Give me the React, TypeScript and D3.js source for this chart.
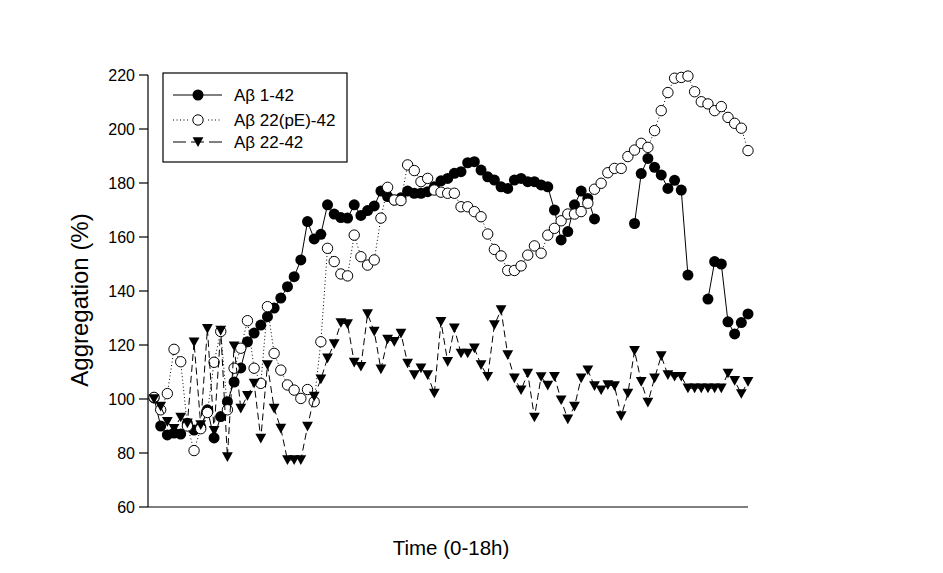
import React from 'react';
import * as d3 from 'd3';

// Aβ 1-42 (filled circles, solid line); null = no measurement
const ab142: (number | null)[] = [
  100.4, 90, 86.7, 87.4, 87, 91, 88.5, 89.6, 96, 85.6,
  93.5, 99, 106.3, 111.5, 121.2, 124.4, 127.4, 130.5, 133.7, 137.4,
  141.6, 145.3, 151.5, 165.7, 159.3, 161, 171.9, 168.5, 167.2, 167,
  171.9, 168, 169.8, 171.5, 177, 175, 173.7, 174.5, 177, 176.2,
  176.2, 176.8, 178.6, 180.8, 181.7, 183.6, 184.2, 187.5, 187.9, 184.8,
  182.3, 181.1, 178.6, 178, 181.1, 181.7, 180.5, 180.5, 179.3, 178.6,
  170, 158.9, 162, 171.9, 177, 174.3, 166.7, null, null, null,
  null, null, 165, 183.5, 189.1, 185.8, 183, 178, 181, 177.4,
  145.9, null, null, 137, 150.9, 150, 128.6, 124.1, 128.3, 131.5,
];

// Aβ 22(pE)-42 (open circles, dotted line)
const ab22pE: (number | null)[] = [
  100.6, 96, 102, 118.4, 113.8, 90, 80.9, 89, 95, 113.6,
  125, 96, 111.4, 118.8, 129, 111.4, 105.8, 134.2, 116.9, 110.7,
  105.2, 103.3, 100.2, 103.5, 99, 121.2, 155.8, 150.9, 146.3, 145.6,
  160.7, 152.7, 149.6, 151.5, 167, 178.4, 173.7, 173.5, 186.7, 184.6,
  180.5, 181.7, 177.4, 176.6, 176.2, 176.2, 171.2, 171.2, 169.4, 167.5,
  161.1, 155.4, 153, 147.6, 147.6, 149.3, 153.3, 156.7, 154, 160.7,
  163.2, 166, 168.5, 168.5, 169.4, 172.5, 177.7, 179.9, 183.8, 185.4,
  185.4, 189.8, 192.2, 194.7, 193.2, 199.4, 206.8, 213.5, 218.8, 219.1,
  219.6, 213.8, 210.1, 209.3, 206.8, 208.3, 204.3, 202.1, 200.3, 192,
];

// Aβ 22-42 (filled down triangles, dashed line)
const ab2242: (number | null)[] = [
  100, 97.2, 91.6, 89, 93.2, 91, 121, 90.4, 126, 88.3,
  125.4, 78.5, 119.6, 96.5, 101.2, 105.8, 85.4, 112.6, 96.5, 89.1,
  77.4, 77.4, 77.4, 89.8, 100.9, 107.3, 115.1, 120.4, 128.2, 127.8,
  113.5, 112, 131.5, 125, 111, 122.1, 121.2, 124.3, 113.2, 108.9,
  111.4, 108.9, 102.1, 128.6, 113.8, 126.2, 116.9, 116.9, 118.8, 112.6,
  108.3, 127.4, 133, 116.3, 107.7, 103.3, 109.5, 93.2, 108.2, 105,
  108.3, 99.6, 92.5, 97.2, 107.7, 110.7, 104.8, 103.3, 105.2, 104.8,
  93.7, 102.1, 117.9, 106.4, 98.7, 107.7, 115.9, 108.9, 108.3, 108.3,
  104, 104, 104, 104, 104, 104, 109.5, 106.8, 101.9, 106.4,
];

const yTicks = [60, 80, 100, 120, 140, 160, 180, 200, 220];
const legendLabels = ['Aβ 1-42', 'Aβ 22(pE)-42', 'Aβ 22-42'];
const yTitle = 'Aggregation (%)';
const xTitle = 'Time (0-18h)';

const FONT = '"Liberation Sans", Arial, Helvetica, sans-serif';

function tri(cx: number, cy: number) {
  return `M${cx - 5.4},${cy - 4.7}L${cx + 5.4},${cy - 4.7}L${cx},${cy + 5}Z`;
}

export default function App() {
  const W = 943;
  const H = 573;
  const x = d3.scaleLinear().domain([-0.9, ab142.length - 1]).range([148, 748]);
  const y = d3.scaleLinear().domain([60, 220]).range([507, 75]);

  const mkLine = (arr: (number | null)[]) =>
    d3
      .line<number | null>()
      .defined((d) => d != null)
      .x((_, i) => x(i))
      .y((d) => y(d as number))(arr) || '';

  const pts = (arr: (number | null)[]) =>
    arr
      .map((v, i) => (v == null ? null : { i, cx: x(i), cy: y(v) }))
      .filter((p): p is { i: number; cx: number; cy: number } => p != null);

  const lx0 = 173;
  const lx1 = 222;
  const lmx = 198;
  const rows = [95, 120, 142];

  return (
    <svg
      width={W}
      height={H}
      style={{ position: 'absolute', left: 0, top: 0, background: '#fff' }}
      fontFamily={FONT}
    >
      <rect x={0} y={0} width={W} height={H} fill="#fff" />
      {/* axes */}
      <line x1={148} y1={75} x2={148} y2={507} stroke="#000" strokeWidth={1.2} />
      <line x1={148} y1={507} x2={748} y2={507} stroke="#000" strokeWidth={1.2} />
      {yTicks.map((t) => (
        <g key={t}>
          <line x1={139} x2={148} y1={y(t)} y2={y(t)} stroke="#000" strokeWidth={1.2} />
          <text x={135} y={y(t) + 5.5} textAnchor="end" fontSize={16} fill="#000">
            {t}
          </text>
        </g>
      ))}
      <text
        transform={`translate(88,300) rotate(-90)`}
        textAnchor="middle"
        fontSize={24}
        fill="#000"
      >
        {yTitle}
      </text>
      <text x={451} y={555} textAnchor="middle" fontSize={20.5} fill="#000">
        {xTitle}
      </text>

      {/* Aβ 1-42 */}
      <path d={mkLine(ab142)} fill="none" stroke="#000" strokeWidth={1} />
      {pts(ab142).map((p) => (
        <circle key={'b' + p.i} cx={p.cx} cy={p.cy} r={5.5} fill="#000" />
      ))}

      {/* Aβ 22(pE)-42 */}
      <path d={mkLine(ab22pE)} fill="none" stroke="#000" strokeWidth={1} strokeDasharray="1,2.5" />
      {pts(ab22pE).map((p) => (
        <circle key={'w' + p.i} cx={p.cx} cy={p.cy} r={5.2} fill="#fff" stroke="#000" strokeWidth={1} />
      ))}

      {/* Aβ 22-42 */}
      <path d={mkLine(ab2242)} fill="none" stroke="#000" strokeWidth={1} strokeDasharray="7,4" />
      {pts(ab2242).map((p) => (
        <path key={'t' + p.i} d={tri(p.cx, p.cy)} fill="#000" />
      ))}

      {/* legend */}
      <rect x={163} y={73} width={184} height={89} fill="#fff" stroke="#000" strokeWidth={1.2} />
      <line x1={lx0} x2={lx1} y1={rows[0]} y2={rows[0]} stroke="#000" strokeWidth={1} />
      <circle cx={lmx} cy={rows[0]} r={5.5} fill="#000" />
      <line x1={lx0} x2={lx1} y1={rows[1]} y2={rows[1]} stroke="#000" strokeWidth={1} strokeDasharray="1,2.5" />
      <rect x={lmx - 8} y={rows[1] - 7} width={16} height={14} fill="#fff" />
      <circle cx={lmx} cy={rows[1]} r={5.2} fill="#fff" stroke="#000" strokeWidth={1} />
      <line x1={lx0} x2={lx1} y1={rows[2]} y2={rows[2]} stroke="#000" strokeWidth={1} strokeDasharray="13,5" />
      <path d={tri(lmx, rows[2])} fill="#000" />
      {legendLabels.map((l, k) => (
        <text key={l} x={234} y={rows[k] + 6} fontSize={17} fill="#000">
          {l}
        </text>
      ))}
    </svg>
  );
}
